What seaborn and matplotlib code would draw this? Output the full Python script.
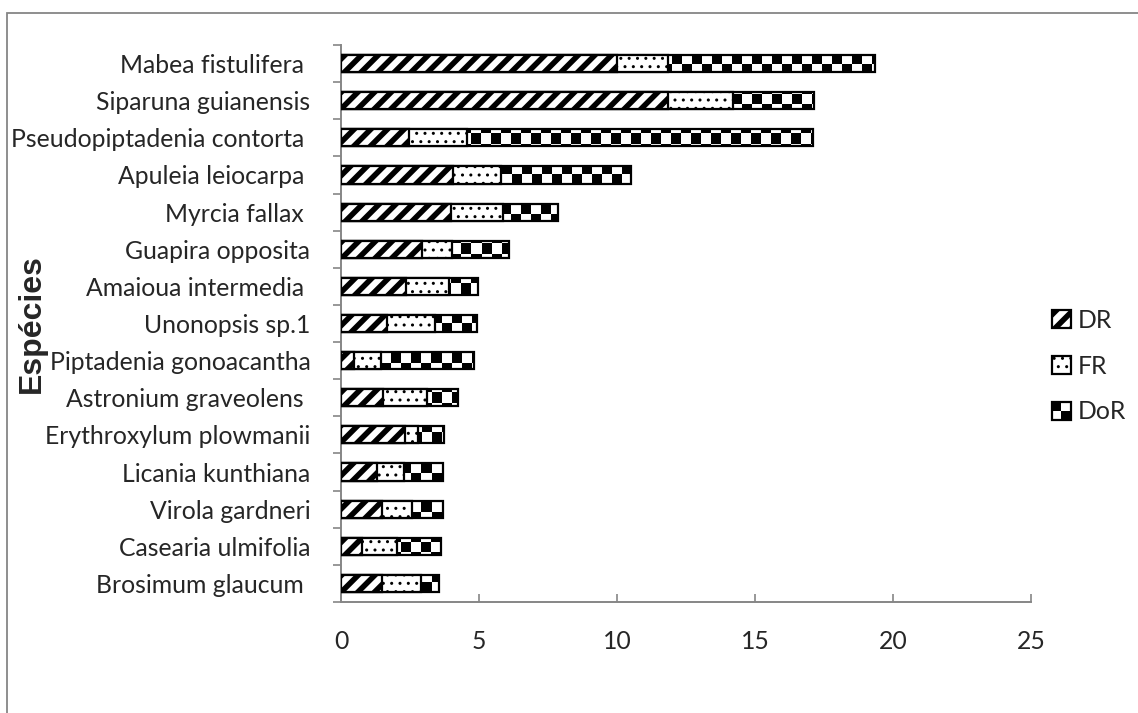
import numpy as np
import pandas as pd
import matplotlib
matplotlib.use("Agg")
import matplotlib.pyplot as plt
import seaborn as sns
from matplotlib.patches import Rectangle, Patch
from matplotlib.legend_handler import HandlerBase

# Importance value components per species (relative density, frequency, dominance)
species = ["Mabea fistulifera ", "Siparuna guianensis", "Pseudopiptadenia contorta ",
           "Apuleia leiocarpa ", "Myrcia fallax ", "Guapira opposita",
           "Amaioua intermedia ", "Unonopsis sp.1", "Piptadenia gonoacantha",
           "Astronium graveolens ", "Erythroxylum plowmanii", "Licania kunthiana",
           "Virola gardneri", "Casearia ulmifolia", "Brosimum glaucum "]
dr = [10.0, 11.83, 2.47, 4.07, 4.0, 2.92, 2.36, 1.68, 0.48, 1.53, 2.32, 1.32, 1.5, 0.77, 1.5]
fr = [1.85, 2.36, 2.09, 1.74, 1.88, 1.11, 1.55, 1.73, 0.97, 1.6, 0.48, 0.96, 1.08, 1.25, 1.39]
dor = [7.5, 2.95, 12.54, 4.7, 2.0, 2.07, 1.04, 1.52, 3.38, 1.11, 0.94, 1.43, 1.13, 1.59, 0.67]
series = ["DR", "FR", "DoR"]
x_ticks = [0, 5, 10, 15, 20, 25]

df = pd.DataFrame({"species": species, "DR": dr, "FR": fr, "DoR": dor})
df["DR_FR"] = df["DR"] + df["FR"]
df["total"] = df["DR_FR"] + df["DoR"]

sns.set_style("white")
plt.rcParams["font.family"] = ["Lato", "DejaVu Sans"]

W, H = 1138, 713
fig = plt.figure(figsize=(W / 100, H / 100), dpi=100)
ax = fig.add_axes([341 / W, 1 - 602 / H, 690 / W, 557 / H])

GRAY = "#868686"
STRIPE_LW = 4.0
DOT_LW = 1.0
bar_kw = dict(y="species", order=species, orient="h", width=0.46, errorbar=None,
              color="white", edgecolor="black", linewidth=1.6, saturation=1, ax=ax)


def set_hatch_lw(patches, lw):
    for p in patches:
        if hasattr(p, "set_hatch_linewidth"):
            p.set_hatch_linewidth(lw)


# full stacked length (the DoR segment shows at the right end)
sns.barplot(data=df, x="total", zorder=3.5, **bar_kw)
dor_patches = list(ax.patches)
for p in dor_patches:
    p.set_facecolor("none")

# checkerboard fill for the DoR segments
ny, nx = 56, 69
checker = (np.add.outer(np.arange(ny), np.arange(nx)) % 2).astype(float)
for p in dor_patches:
    im = ax.imshow(checker, cmap="gray", vmin=0, vmax=1, interpolation="nearest",
                   extent=(0, 1, 0, 1), transform=ax.transAxes, aspect="auto", zorder=3)
    im.set_clip_path(p)

n0 = len(ax.patches)
sns.barplot(data=df, x="DR_FR", hatch="..", zorder=4, **bar_kw)
set_hatch_lw(ax.patches[n0:], DOT_LW)
n1 = len(ax.patches)
sns.barplot(data=df, x="DR", hatch="//", zorder=5, **bar_kw)
set_hatch_lw(ax.patches[n1:], STRIPE_LW)

ax.set_xlim(0, 25)
ax.set_ylim(len(species) - 0.5, -0.5)
ax.set_xticks(x_ticks)
ax.set_xticklabels([str(t) for t in x_ticks])
ax.set_xlabel("")

# category boundaries carry the tick marks
ax.set_yticks(np.arange(len(species)))
ax.set_yticks(np.arange(len(species) + 1) - 0.5, minor=True)
ax.tick_params(axis="y", which="major", length=0, pad=22, labelsize=17.8)
ax.tick_params(axis="y", which="minor", length=6, width=1.2, color=GRAY, direction="out", left=True)
ax.tick_params(axis="x", which="major", length=6, width=1.2, color=GRAY, direction="in",
               bottom=True, pad=20, labelsize=17.8)

for side in ["top", "right"]:
    ax.spines[side].set_visible(False)
for side in ["left", "bottom"]:
    ax.spines[side].set_color(GRAY)
    ax.spines[side].set_linewidth(1.4)

ax.set_ylabel("Espécies", fontsize=23, fontweight="bold", family="Liberation Sans")
ax.yaxis.set_label_coords((47 - 341) / 690, 0.5)


class CheckerHandler(HandlerBase):
    def create_artists(self, legend, orig_handle, xdescent, ydescent, width, height,
                       fontsize, trans):
        x0, y0 = -xdescent, -ydescent
        w, h = width / 2, height / 2
        arts = []
        for i in range(2):
            for j in range(2):
                fc = "black" if (i + j) % 2 == 1 else "white"
                arts.append(Rectangle((x0 + i * w, y0 + j * h), w, h, facecolor=fc,
                                      edgecolor="none", transform=trans))
        arts.append(Rectangle((x0, y0), width, height, facecolor="none",
                              edgecolor="black", lw=1.6, transform=trans))
        return arts


h_dr = Patch(facecolor="white", edgecolor="black", lw=1.6, hatch="//", label=series[0])
h_fr = Patch(facecolor="white", edgecolor="black", lw=1.6, hatch="..", label=series[1])
h_dor = Patch(facecolor="white", edgecolor="black", label=series[2])

leg = fig.legend(handles=[h_dr, h_fr, h_dor], handler_map={h_dor: CheckerHandler()},
                 loc="upper left", bbox_to_anchor=(1052 / W, 1 - 309 / H),
                 frameon=False, fontsize=17.8, borderpad=0, borderaxespad=0,
                 handlelength=0.75, handleheight=0.75, handletextpad=0.3, labelspacing=0.92)
lp = leg.get_patches()
set_hatch_lw(lp[:1], STRIPE_LW)
set_hatch_lw(lp[1:2], DOT_LW)

# outer chart border
fig.patches.append(Rectangle((7 / W, -0.5), 2, 1 - 13 / H + 0.5, transform=fig.transFigure,
                             fill=False, edgecolor=GRAY, lw=1.3))

fig.savefig("out.png", dpi=100)
